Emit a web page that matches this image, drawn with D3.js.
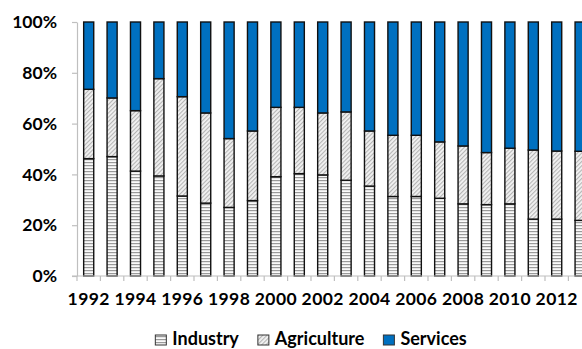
<!DOCTYPE html>
<html>
<head>
<meta charset="utf-8">
<script src="https://cdn.jsdelivr.net/npm/d3@7"></script>
<style>
  html, body { margin: 0; padding: 0; background: #fff; }
  svg { display: block; }
  text { font-family: Lato, "Open Sans", sans-serif; font-weight: 700; fill: #000; }
</style>
</head>
<body>
<svg id="chart" width="582" height="349"></svg>
<script>
// Shares of output by sector, in percent
const years = ["1992","1993","1994","1995","1996","1997","1998","1999","2000","2001","2002",
               "2003","2004","2005","2006","2007","2008","2009","2010","2011","2012","2013"];
const industry    = [46.2, 47.0, 41.3, 39.4, 31.5, 28.7, 27.0, 29.7, 39.1, 40.3, 39.8,
                     37.7, 35.4, 31.3, 31.3, 30.6, 28.4, 28.1, 28.4, 22.4, 22.4, 21.9];
const agriculture = [27.3, 23.1, 23.8, 38.3, 39.1, 35.5, 27.1, 27.4, 27.3, 26.1, 24.4,
                     26.9, 21.7, 24.1, 24.1, 22.2, 22.8, 20.5, 21.9, 27.2, 26.8, 27.2];
const services    = [26.5, 29.9, 34.9, 22.3, 29.4, 35.8, 45.9, 42.9, 33.6, 33.6, 35.8,
                     35.4, 42.9, 44.6, 44.6, 47.2, 48.8, 51.4, 49.7, 50.4, 50.8, 50.9];
const seriesNames = ["Industry", "Agriculture", "Services"];
const yTicks = [0, 0.2, 0.4, 0.6, 0.8, 1];

const rows = years.map((y, i) => ({
  year: y, Industry: industry[i], Agriculture: agriculture[i], Services: services[i]
}));

const svg = d3.select("#chart");
const margin = { left: 77, top: 22, bottom: 276 };
const step = 23.4;

// Fill patterns for the two hatched series
const defs = svg.append("defs");
const pInd = defs.append("pattern").attr("id", "pat-industry")
  .attr("patternUnits", "userSpaceOnUse").attr("width", 4).attr("height", 3);
pInd.append("rect").attr("width", 4).attr("height", 3).attr("fill", "#fafafa");
pInd.append("rect").attr("y", 0).attr("width", 4).attr("height", 1.2).attr("fill", "#9a9a9a");

const pAgr = defs.append("pattern").attr("id", "pat-agri")
  .attr("patternUnits", "userSpaceOnUse").attr("width", 3).attr("height", 3)
  .attr("patternTransform", "rotate(45)");
pAgr.append("rect").attr("width", 3).attr("height", 3).attr("fill", "#f2f2f2");
pAgr.append("rect").attr("width", 1.1).attr("height", 3).attr("fill", "#b4b4b4");

const fills = { Industry: "url(#pat-industry)", Agriculture: "url(#pat-agri)", Services: "#0070C0" };

const x = d3.scaleBand()
  .domain(years)
  .range([margin.left, margin.left + step * years.length])
  .paddingInner(0.57).paddingOuter(0.285);

const y = d3.scaleLinear().domain([0, 1]).range([margin.bottom, margin.top]);

const stack = d3.stack().keys(seriesNames).offset(d3.stackOffsetExpand);
const layers = stack(rows);

svg.append("g").selectAll("g")
  .data(layers).join("g")
  .attr("fill", d => fills[d.key])
  .selectAll("rect")
  .data(d => d).join("rect")
  .attr("x", d => x(d.data.year))
  .attr("width", x.bandwidth())
  .attr("y", d => y(d[1]))
  .attr("height", d => y(d[0]) - y(d[1]))
  .attr("stroke", "#111")
  .attr("stroke-width", 1.4);

// Y axis
const yAxis = svg.append("g")
  .attr("transform", `translate(${margin.left},0)`)
  .call(d3.axisLeft(y).tickValues(yTicks).tickFormat(d3.format(".0%"))
    .tickSize(5).tickPadding(15).tickSizeOuter(0));
yAxis.selectAll("path, line").attr("stroke", "#bfbfbf").attr("stroke-width", 1.2);
yAxis.selectAll("text").attr("font-size", 17.5).attr("font-family", "Lato, sans-serif")
  .attr("font-weight", 700);

// X axis: baseline, boundary ticks and every-other-year labels
const xg = svg.append("g");
const x0 = x.range()[0], x1 = x.range()[1];
xg.append("line").attr("x1", x0 - 5).attr("x2", x1)
  .attr("y1", margin.bottom).attr("y2", margin.bottom)
  .attr("stroke", "#bfbfbf").attr("stroke-width", 1.2);
xg.selectAll("line.tick")
  .data(d3.range(years.length + 1)).join("line")
  .attr("class", "tick")
  .attr("x1", i => x0 + i * x.step()).attr("x2", i => x0 + i * x.step())
  .attr("y1", margin.bottom).attr("y2", margin.bottom + 5)
  .attr("stroke", "#bfbfbf").attr("stroke-width", 1.2);
xg.selectAll("text")
  .data(years.filter((d, i) => i % 2 === 0)).join("text")
  .attr("x", d => x(d) + x.bandwidth() / 2)
  .attr("y", 305)
  .attr("text-anchor", "middle")
  .attr("font-size", 17.5)
  .attr("letter-spacing", 0.4)
  .text(d => d);

// Legend
const legend = svg.append("g");
const items = legend.selectAll("g").data(seriesNames).join("g");
items.append("rect")
  .attr("width", 11).attr("height", 10).attr("y", 335)
  .attr("fill", d => fills[d]).attr("stroke", "#333").attr("stroke-width", 1);
items.append("text")
  .attr("x", 17).attr("y", 345)
  .attr("font-size", 18)
  .text(d => d);
const widths = [];
items.each(function () {
  widths.push(d3.select(this).select("text").node().getComputedTextLength() + 17);
});
const gap = 19;
const total = d3.sum(widths) + gap * (widths.length - 1);
let cursor = 311 - total / 2;
items.attr("transform", (d, i) => {
  const tx = cursor;
  cursor += widths[i] + gap;
  return `translate(${tx},0)`;
});
</script>
</body>
</html>
